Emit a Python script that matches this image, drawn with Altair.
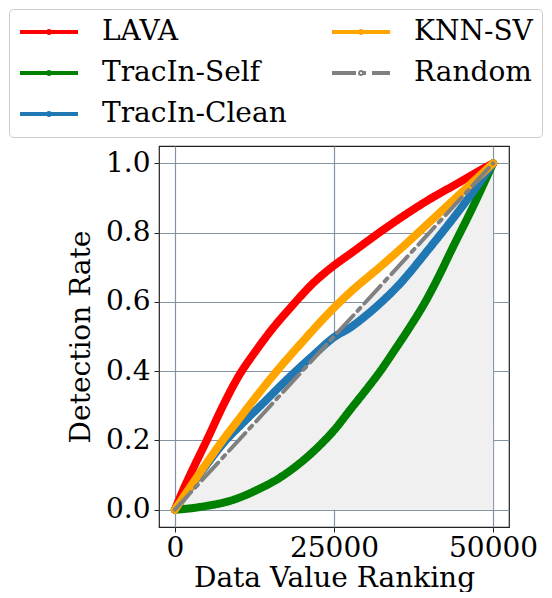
import altair as alt
import pandas as pd

# ---- data ----
legend_order = ["LAVA", "TracIn-Self", "TracIn-Clean", "KNN-SV", "Random"]
draw_order = ["LAVA", "TracIn-Self", "TracIn-Clean", "KNN-SV", "Random"]
color_map = {"LAVA": "#ff0000", "KNN-SV": "#ffa500", "TracIn-Self": "#008000",
             "Random": "#808080", "TracIn-Clean": "#1f77b4"}
dash_map = {"LAVA": [1, 0], "KNN-SV": [1, 0], "TracIn-Self": [1, 0],
            "Random": [24, 6, 4, 6], "TracIn-Clean": [1, 0]}

lava_rank = [0, 1250, 2500, 5000, 7500, 10000, 12500, 15000, 18250, 21500, 25000,
             27500, 32500, 40000, 45000, 48000, 50000]
lava_rate = [0, 0.055, 0.105, 0.2, 0.298, 0.385, 0.453, 0.515, 0.585, 0.65, 0.705,
             0.738, 0.805, 0.896, 0.948, 0.98, 1.0]

knn_rank = [0, 2500, 5000, 7500, 10000, 12500, 16000, 20000, 22500, 25000,
            27500, 32500, 36000, 40000, 45000, 50000]
knn_rate = [0, 0.068, 0.135, 0.2, 0.26, 0.32, 0.4, 0.484, 0.535, 0.583,
            0.627, 0.705, 0.762, 0.83, 0.915, 1.0]

clean_rank = [0, 2500, 5000, 8000, 10500, 14000, 17000, 19000, 22000, 25000, 27500,
              30000, 32500, 35000, 40000, 45500, 50000]
clean_rate = [0, 0.065, 0.13, 0.2, 0.247, 0.31, 0.365, 0.4, 0.45, 0.498, 0.525,
              0.56, 0.6, 0.645, 0.755, 0.884, 1.0]

self_rank = [0, 2500, 5350, 8000, 10600, 13000, 15850, 18500, 21100, 23000, 25000,
             27700, 30000, 32400, 34500, 36600, 39500, 41500, 43450, 46850, 50000]
self_rate = [0, 0.004, 0.012, 0.022, 0.038, 0.058, 0.085, 0.118, 0.157, 0.19, 0.229,
             0.292, 0.345, 0.403, 0.46, 0.518, 0.605, 0.675, 0.749, 0.875, 1.0]

random_rank = [0, 50000]
random_rate = [0, 1.0]

x_ticks = [0, 25000, 50000]
y_ticks = [0.0, 0.2, 0.4, 0.6, 0.8, 1.0]

series = {
    "LAVA": (lava_rank, lava_rate),
    "TracIn-Self": (self_rank, self_rate),
    "TracIn-Clean": (clean_rank, clean_rate),
    "KNN-SV": (knn_rank, knn_rate),
    "Random": (random_rank, random_rate),
}

FONT = "DejaVu Serif"

x_enc = alt.X("rank:Q", scale=alt.Scale(domain=[-2500, 52500], nice=False, zero=False),
              axis=alt.Axis(values=x_ticks, format="d", title="Data Value Ranking",
                            labelFont=FONT, labelFontSize=28, labelColor="black",
                            titleFont=FONT, titleFontSize=28, titleFontWeight="normal",
                            titleColor="black", tickColor="#222222", tickSize=5,
                            domain=False, gridColor="#8393a4", gridWidth=1.2,
                            labelPadding=2, titlePadding=2, labelFlush=False,
                            labelOverlap=False))
y_enc = alt.Y("rate:Q", scale=alt.Scale(domain=[-0.05, 1.05], nice=False, zero=False),
              axis=alt.Axis(values=y_ticks, format=".1f", title="Detection Rate",
                            labelFont=FONT, labelFontSize=28, labelColor="black",
                            titleFont=FONT, titleFontSize=28, titleFontWeight="normal",
                            titleColor="black", tickColor="#222222", tickSize=5,
                            domain=False, gridColor="#8393a4", gridWidth=1.2,
                            labelPadding=4, titlePadding=10, labelOverlap=False))

# symbol: 58px line with a small dot, drawn at unit = 10px (symbolSize 400)
sym_path = ("M-1.2,0L4.6,0M1.6,0A0.1,0.1,0,1,1,1.8,0A0.1,0.1,0,1,1,1.6,0")

legend = alt.Legend(orient="none", legendX=-150, legendY=-137, columns=2,
                    symbolType=sym_path, symbolSize=400, symbolStrokeWidth=4,
                    labelFont=FONT, labelFontSize=28, labelColor="black",
                    labelOffset=56, rowPadding=13, columnPadding=37, padding=9,
                    strokeColor="#cccccc", cornerRadius=4, fillColor="white",
                    labelLimit=400, titlePadding=0, titleFontSize=1)

color_scale = alt.Scale(domain=legend_order, range=[color_map[m] for m in legend_order])
dash_scale = alt.Scale(domain=legend_order, range=[dash_map[m] for m in legend_order])

area_df = pd.DataFrame({"rank": random_rank, "rate": random_rate})
area = alt.Chart(area_df).mark_area(color="#f0f0f0").encode(
    x=x_enc, y=y_enc, y2=alt.datum(0))

layers = [area]
for m in draw_order:
    r, v = series[m]
    df = pd.DataFrame({"rank": r, "rate": v, "method": [m] * len(r)})
    sw = 4 if m == "Random" else 8
    layers.append(
        alt.Chart(df).mark_line(strokeWidth=sw, strokeCap="round", strokeJoin="round",
                                interpolate="monotone").encode(
            x=x_enc, y=y_enc,
            color=alt.Color("method:N", scale=color_scale, legend=legend, title=None),
            strokeDash=alt.StrokeDash("method:N", scale=dash_scale, legend=legend,
                                      title=None),
        )
    )

chart = alt.layer(*layers).properties(width=350, height=381, padding=0).configure_view(
    stroke="#222222", strokeWidth=1.2)

chart.save("out.html", embed_options={"renderer": "svg", "actions": False})
